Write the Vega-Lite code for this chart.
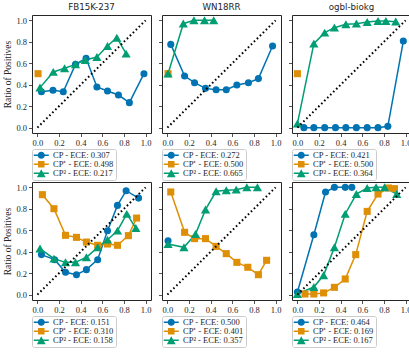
{
  "$schema": "https://vega.github.io/schema/vega-lite/v6.json",
  "padding": {"left": 2, "top": 2, "right": 0, "bottom": 0},
  "background": "white",
  "datasets": {
    "diag": [{"x": 0, "y": 0}, {"x": 1, "y": 1}],
    "cal": [
      {"p": 1, "s": "CP", "i": 0, "x": 0.037, "y": 0.335},
      {"p": 1, "s": "CP", "i": 1, "x": 0.144, "y": 0.348},
      {"p": 1, "s": "CP", "i": 2, "x": 0.239, "y": 0.335},
      {"p": 1, "s": "CP", "i": 3, "x": 0.352, "y": 0.59},
      {"p": 1, "s": "CP", "i": 4, "x": 0.45, "y": 0.646},
      {"p": 1, "s": "CP", "i": 5, "x": 0.55, "y": 0.379},
      {"p": 1, "s": "CP", "i": 6, "x": 0.648, "y": 0.342},
      {"p": 1, "s": "CP", "i": 7, "x": 0.749, "y": 0.304},
      {"p": 1, "s": "CP", "i": 8, "x": 0.85, "y": 0.233},
      {"p": 1, "s": "CP", "i": 9, "x": 0.985, "y": 0.503},
      {"p": 1, "s": "CP+", "i": 0, "x": 0.006, "y": 0.503},
      {"p": 1, "s": "CP2", "i": 0, "x": 0.024, "y": 0.373},
      {"p": 1, "s": "CP2", "i": 1, "x": 0.147, "y": 0.519},
      {"p": 1, "s": "CP2", "i": 2, "x": 0.251, "y": 0.553},
      {"p": 1, "s": "CP2", "i": 3, "x": 0.352, "y": 0.59},
      {"p": 1, "s": "CP2", "i": 4, "x": 0.443, "y": 0.63},
      {"p": 1, "s": "CP2", "i": 5, "x": 0.55, "y": 0.658},
      {"p": 1, "s": "CP2", "i": 6, "x": 0.648, "y": 0.761},
      {"p": 1, "s": "CP2", "i": 7, "x": 0.734, "y": 0.838},
      {"p": 1, "s": "CP2", "i": 8, "x": 0.82, "y": 0.689},

      {"p": 2, "s": "CP", "i": 0, "x": 0.031, "y": 0.776},
      {"p": 2, "s": "CP", "i": 1, "x": 0.159, "y": 0.481},
      {"p": 2, "s": "CP", "i": 2, "x": 0.251, "y": 0.419},
      {"p": 2, "s": "CP", "i": 3, "x": 0.352, "y": 0.366},
      {"p": 2, "s": "CP", "i": 4, "x": 0.45, "y": 0.354},
      {"p": 2, "s": "CP", "i": 5, "x": 0.544, "y": 0.354},
      {"p": 2, "s": "CP", "i": 6, "x": 0.642, "y": 0.398},
      {"p": 2, "s": "CP", "i": 7, "x": 0.749, "y": 0.419},
      {"p": 2, "s": "CP", "i": 8, "x": 0.841, "y": 0.457},
      {"p": 2, "s": "CP", "i": 9, "x": 0.972, "y": 0.761},
      {"p": 2, "s": "CP+", "i": 0, "x": 0.006, "y": 0.503},
      {"p": 2, "s": "CP2", "i": 0, "x": 0.006, "y": 0.503},
      {"p": 2, "s": "CP2", "i": 1, "x": 0.147, "y": 0.969},
      {"p": 2, "s": "CP2", "i": 2, "x": 0.245, "y": 1.0},
      {"p": 2, "s": "CP2", "i": 3, "x": 0.343, "y": 1.0},
      {"p": 2, "s": "CP2", "i": 4, "x": 0.428, "y": 1.0},

      {"p": 3, "s": "CP", "i": 0, "x": 0.06, "y": 0.0},
      {"p": 3, "s": "CP", "i": 1, "x": 0.152, "y": 0.0},
      {"p": 3, "s": "CP", "i": 2, "x": 0.252, "y": 0.0},
      {"p": 3, "s": "CP", "i": 3, "x": 0.352, "y": 0.0},
      {"p": 3, "s": "CP", "i": 4, "x": 0.448, "y": 0.0},
      {"p": 3, "s": "CP", "i": 5, "x": 0.545, "y": 0.0},
      {"p": 3, "s": "CP", "i": 6, "x": 0.645, "y": 0.0},
      {"p": 3, "s": "CP", "i": 7, "x": 0.745, "y": 0.0},
      {"p": 3, "s": "CP", "i": 8, "x": 0.836, "y": 0.012},
      {"p": 3, "s": "CP", "i": 9, "x": 0.979, "y": 0.807},
      {"p": 3, "s": "CP+", "i": 0, "x": 0.0, "y": 0.503},
      {"p": 3, "s": "CP2", "i": 0, "x": 0.0, "y": 0.037},
      {"p": 3, "s": "CP2", "i": 1, "x": 0.152, "y": 0.783},
      {"p": 3, "s": "CP2", "i": 2, "x": 0.252, "y": 0.885},
      {"p": 3, "s": "CP2", "i": 3, "x": 0.342, "y": 0.932},
      {"p": 3, "s": "CP2", "i": 4, "x": 0.448, "y": 0.963},
      {"p": 3, "s": "CP2", "i": 5, "x": 0.545, "y": 0.969},
      {"p": 3, "s": "CP2", "i": 6, "x": 0.645, "y": 0.984},
      {"p": 3, "s": "CP2", "i": 7, "x": 0.745, "y": 0.994},
      {"p": 3, "s": "CP2", "i": 8, "x": 0.818, "y": 0.994},
      {"p": 3, "s": "CP2", "i": 9, "x": 0.909, "y": 0.988},

      {"p": 4, "s": "CP", "i": 0, "x": 0.037, "y": 0.373},
      {"p": 4, "s": "CP", "i": 1, "x": 0.159, "y": 0.326},
      {"p": 4, "s": "CP", "i": 2, "x": 0.26, "y": 0.208},
      {"p": 4, "s": "CP", "i": 3, "x": 0.361, "y": 0.186},
      {"p": 4, "s": "CP", "i": 4, "x": 0.453, "y": 0.233},
      {"p": 4, "s": "CP", "i": 5, "x": 0.557, "y": 0.326},
      {"p": 4, "s": "CP", "i": 6, "x": 0.648, "y": 0.596},
      {"p": 4, "s": "CP", "i": 7, "x": 0.74, "y": 0.832},
      {"p": 4, "s": "CP", "i": 8, "x": 0.82, "y": 0.969},
      {"p": 4, "s": "CP", "i": 9, "x": 0.935, "y": 0.9},
      {"p": 4, "s": "CP+", "i": 0, "x": 0.046, "y": 0.932},
      {"p": 4, "s": "CP+", "i": 1, "x": 0.153, "y": 0.801},
      {"p": 4, "s": "CP+", "i": 2, "x": 0.26, "y": 0.553},
      {"p": 4, "s": "CP+", "i": 3, "x": 0.361, "y": 0.534},
      {"p": 4, "s": "CP+", "i": 4, "x": 0.453, "y": 0.49},
      {"p": 4, "s": "CP+", "i": 5, "x": 0.557, "y": 0.46},
      {"p": 4, "s": "CP+", "i": 6, "x": 0.648, "y": 0.472},
      {"p": 4, "s": "CP+", "i": 7, "x": 0.74, "y": 0.46},
      {"p": 4, "s": "CP+", "i": 8, "x": 0.841, "y": 0.55},
      {"p": 4, "s": "CP+", "i": 9, "x": 0.917, "y": 0.714},
      {"p": 4, "s": "CP2", "i": 0, "x": 0.024, "y": 0.429},
      {"p": 4, "s": "CP2", "i": 1, "x": 0.153, "y": 0.335},
      {"p": 4, "s": "CP2", "i": 2, "x": 0.26, "y": 0.301},
      {"p": 4, "s": "CP2", "i": 3, "x": 0.352, "y": 0.301},
      {"p": 4, "s": "CP2", "i": 4, "x": 0.453, "y": 0.348},
      {"p": 4, "s": "CP2", "i": 5, "x": 0.557, "y": 0.441},
      {"p": 4, "s": "CP2", "i": 6, "x": 0.648, "y": 0.512},
      {"p": 4, "s": "CP2", "i": 7, "x": 0.74, "y": 0.596},
      {"p": 4, "s": "CP2", "i": 8, "x": 0.826, "y": 0.752},
      {"p": 4, "s": "CP2", "i": 9, "x": 0.91, "y": 0.62},

      {"p": 5, "s": "CP", "i": 0, "x": 0.006, "y": 0.503},
      {"p": 5, "s": "CP+", "i": 0, "x": 0.031, "y": 0.957},
      {"p": 5, "s": "CP+", "i": 1, "x": 0.159, "y": 0.581},
      {"p": 5, "s": "CP+", "i": 2, "x": 0.251, "y": 0.522},
      {"p": 5, "s": "CP+", "i": 3, "x": 0.352, "y": 0.522},
      {"p": 5, "s": "CP+", "i": 4, "x": 0.45, "y": 0.45},
      {"p": 5, "s": "CP+", "i": 5, "x": 0.544, "y": 0.382},
      {"p": 5, "s": "CP+", "i": 6, "x": 0.642, "y": 0.301},
      {"p": 5, "s": "CP+", "i": 7, "x": 0.743, "y": 0.255},
      {"p": 5, "s": "CP+", "i": 8, "x": 0.841, "y": 0.186},
      {"p": 5, "s": "CP+", "i": 9, "x": 0.917, "y": 0.32},
      {"p": 5, "s": "CP2", "i": 0, "x": 0.006, "y": 0.472},
      {"p": 5, "s": "CP2", "i": 1, "x": 0.153, "y": 0.441},
      {"p": 5, "s": "CP2", "i": 2, "x": 0.26, "y": 0.565},
      {"p": 5, "s": "CP2", "i": 3, "x": 0.352, "y": 0.792},
      {"p": 5, "s": "CP2", "i": 4, "x": 0.45, "y": 0.963},
      {"p": 5, "s": "CP2", "i": 5, "x": 0.544, "y": 0.972},
      {"p": 5, "s": "CP2", "i": 6, "x": 0.636, "y": 0.978},
      {"p": 5, "s": "CP2", "i": 7, "x": 0.734, "y": 1.0},
      {"p": 5, "s": "CP2", "i": 8, "x": 0.832, "y": 1.0},

      {"p": 6, "s": "CP", "i": 0, "x": 0.0, "y": 0.025},
      {"p": 6, "s": "CP", "i": 1, "x": 0.152, "y": 0.559},
      {"p": 6, "s": "CP", "i": 2, "x": 0.26, "y": 0.957},
      {"p": 6, "s": "CP", "i": 3, "x": 0.342, "y": 1.0},
      {"p": 6, "s": "CP", "i": 4, "x": 0.442, "y": 1.0},
      {"p": 6, "s": "CP", "i": 5, "x": 0.503, "y": 1.0},
      {"p": 6, "s": "CP+", "i": 0, "x": 0.07, "y": 0.006},
      {"p": 6, "s": "CP+", "i": 1, "x": 0.152, "y": 0.006},
      {"p": 6, "s": "CP+", "i": 2, "x": 0.242, "y": 0.016},
      {"p": 6, "s": "CP+", "i": 3, "x": 0.342, "y": 0.068},
      {"p": 6, "s": "CP+", "i": 4, "x": 0.442, "y": 0.146},
      {"p": 6, "s": "CP+", "i": 5, "x": 0.539, "y": 0.373},
      {"p": 6, "s": "CP+", "i": 6, "x": 0.645, "y": 0.776},
      {"p": 6, "s": "CP+", "i": 7, "x": 0.745, "y": 0.938},
      {"p": 6, "s": "CP+", "i": 8, "x": 0.842, "y": 0.994},
      {"p": 6, "s": "CP+", "i": 9, "x": 0.897, "y": 0.988},
      {"p": 6, "s": "CP2", "i": 0, "x": 0.0, "y": 0.006},
      {"p": 6, "s": "CP2", "i": 1, "x": 0.152, "y": 0.071},
      {"p": 6, "s": "CP2", "i": 2, "x": 0.242, "y": 0.18},
      {"p": 6, "s": "CP2", "i": 3, "x": 0.342, "y": 0.441},
      {"p": 6, "s": "CP2", "i": 4, "x": 0.442, "y": 0.752},
      {"p": 6, "s": "CP2", "i": 5, "x": 0.545, "y": 0.938},
      {"p": 6, "s": "CP2", "i": 6, "x": 0.645, "y": 0.994},
      {"p": 6, "s": "CP2", "i": 7, "x": 0.727, "y": 1.0},
      {"p": 6, "s": "CP2", "i": 8, "x": 0.806, "y": 1.0},
      {"p": 6, "s": "CP2", "i": 9, "x": 0.918, "y": 0.938}
    ]
  },
  "config": {
    "view": {"stroke": "#262626", "strokeWidth": 1},
    "axis": {
      "labelFont": "Liberation Serif", "labelFontSize": 8.5, "labelColor": "#262626",
      "tickColor": "#262626", "tickSize": 3.5, "tickWidth": 0.8,
      "domain": false, "grid": false, "labelPadding": 2, "labelOverlap": false,
      "titleFont": "Liberation Serif", "titleFontSize": 9.5, "titleFontWeight": "normal",
      "titleColor": "#262626", "titlePadding": 3
    },
    "title": {"font": "DejaVu Sans", "fontSize": 8.7, "fontWeight": "normal", "color": "#262626", "offset": 3},
    "legend": {
      "orient": "bottom", "direction": "vertical", "offset": 2,
      "symbolSize": 64, "symbolOffset": 3, "labelOffset": 7.5,
      "labelFont": "Liberation Serif", "labelFontSize": 8.5, "labelColor": "#262626",
      "padding": 2, "rowPadding": 0, "strokeColor": "#cccccc", "cornerRadius": 2,
      "fillColor": "white", "symbolStrokeWidth": 0, "symbolOpacity": 1
    }
  },
  "spacing": 0,
  "resolve": {"scale": {"color": "independent", "shape": "independent"}, "legend": {"color": "independent", "shape": "independent"}},
  "vconcat": [
    {
      "spacing": 5,
      "resolve": {"scale": {"color": "independent", "shape": "independent"}, "legend": {"color": "independent", "shape": "independent"}},
      "hconcat": [
        {
          "width": 119, "height": 118, "title": "FB15K-237",
          "encoding": {
            "x": {"field": "x", "type": "quantitative", "scale": {"domain": [-0.05, 1.05], "nice": false, "zero": false}, "axis": {"values": [0, 0.2, 0.4, 0.6, 0.8, 1], "format": ".1f", "title": null}},
            "y": {"field": "y", "type": "quantitative", "scale": {"domain": [-0.05, 1.05], "nice": false, "zero": false}, "axis": {"values": [0, 0.2, 0.4, 0.6, 0.8, 1], "format": ".1f", "title": "Ratio of Positives"}}
          },
          "resolve": {"scale": {"shape": "independent", "color": "independent"}},
          "layer": [
            {"data": {"name": "cal"}, "transform": [{"filter": "datum.p == 1"}],
             "mark": {"type": "line", "strokeWidth": 1.5},
             "encoding": {
               "stroke": {"field": "s", "type": "nominal", "scale": {"domain": ["CP", "CP+", "CP2"], "range": ["#0173b2", "#de8f05", "#029e73"]}, "legend": null},
               "order": {"field": "i", "type": "quantitative"}
             }},
            {"data": {"name": "cal"}, "transform": [{"filter": "datum.p == 1"}],
             "mark": {"type": "point", "filled": true, "opacity": 1, "size": 50},
             "encoding": {
               "fill": {"field": "s", "type": "nominal", "scale": {"domain": ["CP", "CP+", "CP2"], "range": ["#0173b2", "#de8f05", "#029e73"]}, "legend": null},
               "shape": {"field": "s", "type": "nominal", "scale": {"domain": ["CP", "CP+", "CP2"], "range": ["circle", "square", "M0,-1.15L1.3,1.1H-1.3Z"]}, "legend": null}
             }},
            {"data": {"name": "cal"}, "transform": [{"filter": "false"}],
             "mark": {"type": "point", "filled": true},
             "encoding": {
               "color": {"field": "s", "type": "nominal", "scale": {"domain": ["CP", "CP+", "CP2"], "range": ["#0173b2", "#de8f05", "#029e73"]},
                 "legend": {"title": null, "labelExpr": "datum.value == 'CP' ? 'CP - ECE: 0.307' : datum.value == 'CP+' ? 'CP⁺ - ECE: 0.498' : 'CP² - ECE: 0.217'"}},
               "shape": {"field": "s", "type": "nominal", "scale": {"domain": ["CP", "CP+", "CP2"], "range": ["M-1.875,-0.19H1.875V0.19H-1.875Z M-0.9,0A0.9,0.9,0,1,1,0.9,0A0.9,0.9,0,1,1,-0.9,0Z", "M-1.875,-0.19H1.875V0.19H-1.875Z M-0.82,-0.82H0.82V0.82H-0.82Z", "M-1.875,-0.19H1.875V0.19H-1.875Z M0,-1L1.1,1H-1.1Z"]},
                 "legend": {"title": null, "labelExpr": "datum.value == 'CP' ? 'CP - ECE: 0.307' : datum.value == 'CP+' ? 'CP⁺ - ECE: 0.498' : 'CP² - ECE: 0.217'"}}
             }},
            {"data": {"name": "diag"}, "mark": {"type": "line", "color": "black", "strokeWidth": 2, "strokeDash": [1.6, 2.6]}, "encoding": {}}
          ]
        },
        {
          "width": 119, "height": 118, "title": "WN18RR",
          "encoding": {
            "x": {"field": "x", "type": "quantitative", "scale": {"domain": [-0.05, 1.05], "nice": false, "zero": false}, "axis": {"values": [0, 0.2, 0.4, 0.6, 0.8, 1], "format": ".1f", "title": null}},
            "y": {"field": "y", "type": "quantitative", "scale": {"domain": [-0.05, 1.05], "nice": false, "zero": false}, "axis": {"values": [0, 0.2, 0.4, 0.6, 0.8, 1], "labels": false, "title": null}}
          },
          "resolve": {"scale": {"shape": "independent", "color": "independent"}},
          "layer": [
            {"data": {"name": "cal"}, "transform": [{"filter": "datum.p == 2"}],
             "mark": {"type": "line", "strokeWidth": 1.5},
             "encoding": {
               "stroke": {"field": "s", "type": "nominal", "scale": {"domain": ["CP", "CP+", "CP2"], "range": ["#0173b2", "#de8f05", "#029e73"]}, "legend": null},
               "order": {"field": "i", "type": "quantitative"}
             }},
            {"data": {"name": "cal"}, "transform": [{"filter": "datum.p == 2"}],
             "mark": {"type": "point", "filled": true, "opacity": 1, "size": 50},
             "encoding": {
               "fill": {"field": "s", "type": "nominal", "scale": {"domain": ["CP", "CP+", "CP2"], "range": ["#0173b2", "#de8f05", "#029e73"]}, "legend": null},
               "shape": {"field": "s", "type": "nominal", "scale": {"domain": ["CP", "CP+", "CP2"], "range": ["circle", "square", "M0,-1.15L1.3,1.1H-1.3Z"]}, "legend": null}
             }},
            {"data": {"name": "cal"}, "transform": [{"filter": "false"}],
             "mark": {"type": "point", "filled": true},
             "encoding": {
               "color": {"field": "s", "type": "nominal", "scale": {"domain": ["CP", "CP+", "CP2"], "range": ["#0173b2", "#de8f05", "#029e73"]},
                 "legend": {"title": null, "labelExpr": "datum.value == 'CP' ? 'CP - ECE: 0.272' : datum.value == 'CP+' ? 'CP⁺ - ECE: 0.500' : 'CP² - ECE: 0.665'"}},
               "shape": {"field": "s", "type": "nominal", "scale": {"domain": ["CP", "CP+", "CP2"], "range": ["M-1.875,-0.19H1.875V0.19H-1.875Z M-0.9,0A0.9,0.9,0,1,1,0.9,0A0.9,0.9,0,1,1,-0.9,0Z", "M-1.875,-0.19H1.875V0.19H-1.875Z M-0.82,-0.82H0.82V0.82H-0.82Z", "M-1.875,-0.19H1.875V0.19H-1.875Z M0,-1L1.1,1H-1.1Z"]},
                 "legend": {"title": null, "labelExpr": "datum.value == 'CP' ? 'CP - ECE: 0.272' : datum.value == 'CP+' ? 'CP⁺ - ECE: 0.500' : 'CP² - ECE: 0.665'"}}
             }},
            {"data": {"name": "diag"}, "mark": {"type": "line", "color": "black", "strokeWidth": 2, "strokeDash": [1.6, 2.6]}, "encoding": {}}
          ]
        },
        {
          "width": 119, "height": 118, "title": "ogbl-biokg",
          "encoding": {
            "x": {"field": "x", "type": "quantitative", "scale": {"domain": [-0.05, 1.05], "nice": false, "zero": false}, "axis": {"values": [0, 0.2, 0.4, 0.6, 0.8, 1], "format": ".1f", "title": null}},
            "y": {"field": "y", "type": "quantitative", "scale": {"domain": [-0.05, 1.05], "nice": false, "zero": false}, "axis": {"values": [0, 0.2, 0.4, 0.6, 0.8, 1], "labels": false, "title": null}}
          },
          "resolve": {"scale": {"shape": "independent", "color": "independent"}},
          "layer": [
            {"data": {"name": "cal"}, "transform": [{"filter": "datum.p == 3"}],
             "mark": {"type": "line", "strokeWidth": 1.5},
             "encoding": {
               "stroke": {"field": "s", "type": "nominal", "scale": {"domain": ["CP", "CP+", "CP2"], "range": ["#0173b2", "#de8f05", "#029e73"]}, "legend": null},
               "order": {"field": "i", "type": "quantitative"}
             }},
            {"data": {"name": "cal"}, "transform": [{"filter": "datum.p == 3"}],
             "mark": {"type": "point", "filled": true, "opacity": 1, "size": 50},
             "encoding": {
               "fill": {"field": "s", "type": "nominal", "scale": {"domain": ["CP", "CP+", "CP2"], "range": ["#0173b2", "#de8f05", "#029e73"]}, "legend": null},
               "shape": {"field": "s", "type": "nominal", "scale": {"domain": ["CP", "CP+", "CP2"], "range": ["circle", "square", "M0,-1.15L1.3,1.1H-1.3Z"]}, "legend": null}
             }},
            {"data": {"name": "cal"}, "transform": [{"filter": "false"}],
             "mark": {"type": "point", "filled": true},
             "encoding": {
               "color": {"field": "s", "type": "nominal", "scale": {"domain": ["CP", "CP+", "CP2"], "range": ["#0173b2", "#de8f05", "#029e73"]},
                 "legend": {"title": null, "labelExpr": "datum.value == 'CP' ? 'CP - ECE: 0.421' : datum.value == 'CP+' ? 'CP⁺ - ECE: 0.500' : 'CP² - ECE: 0.364'"}},
               "shape": {"field": "s", "type": "nominal", "scale": {"domain": ["CP", "CP+", "CP2"], "range": ["M-1.875,-0.19H1.875V0.19H-1.875Z M-0.9,0A0.9,0.9,0,1,1,0.9,0A0.9,0.9,0,1,1,-0.9,0Z", "M-1.875,-0.19H1.875V0.19H-1.875Z M-0.82,-0.82H0.82V0.82H-0.82Z", "M-1.875,-0.19H1.875V0.19H-1.875Z M0,-1L1.1,1H-1.1Z"]},
                 "legend": {"title": null, "labelExpr": "datum.value == 'CP' ? 'CP - ECE: 0.421' : datum.value == 'CP+' ? 'CP⁺ - ECE: 0.500' : 'CP² - ECE: 0.364'"}}
             }},
            {"data": {"name": "diag"}, "mark": {"type": "line", "color": "black", "strokeWidth": 2, "strokeDash": [1.6, 2.6]}, "encoding": {}}
          ]
        }
      ]
    },
    {
      "spacing": 5,
      "resolve": {"scale": {"color": "independent", "shape": "independent"}, "legend": {"color": "independent", "shape": "independent"}},
      "hconcat": [
        {
          "width": 119, "height": 118,
          "encoding": {
            "x": {"field": "x", "type": "quantitative", "scale": {"domain": [-0.05, 1.05], "nice": false, "zero": false}, "axis": {"values": [0, 0.2, 0.4, 0.6, 0.8, 1], "format": ".1f", "title": null}},
            "y": {"field": "y", "type": "quantitative", "scale": {"domain": [-0.05, 1.05], "nice": false, "zero": false}, "axis": {"values": [0, 0.2, 0.4, 0.6, 0.8, 1], "format": ".1f", "title": "Ratio of Positives"}}
          },
          "resolve": {"scale": {"shape": "independent", "color": "independent"}},
          "layer": [
            {"data": {"name": "cal"}, "transform": [{"filter": "datum.p == 4"}],
             "mark": {"type": "line", "strokeWidth": 1.5},
             "encoding": {
               "stroke": {"field": "s", "type": "nominal", "scale": {"domain": ["CP", "CP+", "CP2"], "range": ["#0173b2", "#de8f05", "#029e73"]}, "legend": null},
               "order": {"field": "i", "type": "quantitative"}
             }},
            {"data": {"name": "cal"}, "transform": [{"filter": "datum.p == 4"}],
             "mark": {"type": "point", "filled": true, "opacity": 1, "size": 50},
             "encoding": {
               "fill": {"field": "s", "type": "nominal", "scale": {"domain": ["CP", "CP+", "CP2"], "range": ["#0173b2", "#de8f05", "#029e73"]}, "legend": null},
               "shape": {"field": "s", "type": "nominal", "scale": {"domain": ["CP", "CP+", "CP2"], "range": ["circle", "square", "M0,-1.15L1.3,1.1H-1.3Z"]}, "legend": null}
             }},
            {"data": {"name": "cal"}, "transform": [{"filter": "false"}],
             "mark": {"type": "point", "filled": true},
             "encoding": {
               "color": {"field": "s", "type": "nominal", "scale": {"domain": ["CP", "CP+", "CP2"], "range": ["#0173b2", "#de8f05", "#029e73"]},
                 "legend": {"title": null, "labelExpr": "datum.value == 'CP' ? 'CP - ECE: 0.151' : datum.value == 'CP+' ? 'CP⁺ - ECE: 0.310' : 'CP² - ECE: 0.158'"}},
               "shape": {"field": "s", "type": "nominal", "scale": {"domain": ["CP", "CP+", "CP2"], "range": ["M-1.875,-0.19H1.875V0.19H-1.875Z M-0.9,0A0.9,0.9,0,1,1,0.9,0A0.9,0.9,0,1,1,-0.9,0Z", "M-1.875,-0.19H1.875V0.19H-1.875Z M-0.82,-0.82H0.82V0.82H-0.82Z", "M-1.875,-0.19H1.875V0.19H-1.875Z M0,-1L1.1,1H-1.1Z"]},
                 "legend": {"title": null, "labelExpr": "datum.value == 'CP' ? 'CP - ECE: 0.151' : datum.value == 'CP+' ? 'CP⁺ - ECE: 0.310' : 'CP² - ECE: 0.158'"}}
             }},
            {"data": {"name": "diag"}, "mark": {"type": "line", "color": "black", "strokeWidth": 2, "strokeDash": [1.6, 2.6]}, "encoding": {}}
          ]
        },
        {
          "width": 119, "height": 118,
          "encoding": {
            "x": {"field": "x", "type": "quantitative", "scale": {"domain": [-0.05, 1.05], "nice": false, "zero": false}, "axis": {"values": [0, 0.2, 0.4, 0.6, 0.8, 1], "format": ".1f", "title": null}},
            "y": {"field": "y", "type": "quantitative", "scale": {"domain": [-0.05, 1.05], "nice": false, "zero": false}, "axis": {"values": [0, 0.2, 0.4, 0.6, 0.8, 1], "labels": false, "title": null}}
          },
          "resolve": {"scale": {"shape": "independent", "color": "independent"}},
          "layer": [
            {"data": {"name": "cal"}, "transform": [{"filter": "datum.p == 5"}],
             "mark": {"type": "line", "strokeWidth": 1.5},
             "encoding": {
               "stroke": {"field": "s", "type": "nominal", "scale": {"domain": ["CP", "CP+", "CP2"], "range": ["#0173b2", "#de8f05", "#029e73"]}, "legend": null},
               "order": {"field": "i", "type": "quantitative"}
             }},
            {"data": {"name": "cal"}, "transform": [{"filter": "datum.p == 5"}],
             "mark": {"type": "point", "filled": true, "opacity": 1, "size": 50},
             "encoding": {
               "fill": {"field": "s", "type": "nominal", "scale": {"domain": ["CP", "CP+", "CP2"], "range": ["#0173b2", "#de8f05", "#029e73"]}, "legend": null},
               "shape": {"field": "s", "type": "nominal", "scale": {"domain": ["CP", "CP+", "CP2"], "range": ["circle", "square", "M0,-1.15L1.3,1.1H-1.3Z"]}, "legend": null}
             }},
            {"data": {"name": "cal"}, "transform": [{"filter": "false"}],
             "mark": {"type": "point", "filled": true},
             "encoding": {
               "color": {"field": "s", "type": "nominal", "scale": {"domain": ["CP", "CP+", "CP2"], "range": ["#0173b2", "#de8f05", "#029e73"]},
                 "legend": {"title": null, "labelExpr": "datum.value == 'CP' ? 'CP - ECE: 0.500' : datum.value == 'CP+' ? 'CP⁺ - ECE: 0.401' : 'CP² - ECE: 0.357'"}},
               "shape": {"field": "s", "type": "nominal", "scale": {"domain": ["CP", "CP+", "CP2"], "range": ["M-1.875,-0.19H1.875V0.19H-1.875Z M-0.9,0A0.9,0.9,0,1,1,0.9,0A0.9,0.9,0,1,1,-0.9,0Z", "M-1.875,-0.19H1.875V0.19H-1.875Z M-0.82,-0.82H0.82V0.82H-0.82Z", "M-1.875,-0.19H1.875V0.19H-1.875Z M0,-1L1.1,1H-1.1Z"]},
                 "legend": {"title": null, "labelExpr": "datum.value == 'CP' ? 'CP - ECE: 0.500' : datum.value == 'CP+' ? 'CP⁺ - ECE: 0.401' : 'CP² - ECE: 0.357'"}}
             }},
            {"data": {"name": "diag"}, "mark": {"type": "line", "color": "black", "strokeWidth": 2, "strokeDash": [1.6, 2.6]}, "encoding": {}}
          ]
        },
        {
          "width": 119, "height": 118,
          "encoding": {
            "x": {"field": "x", "type": "quantitative", "scale": {"domain": [-0.05, 1.05], "nice": false, "zero": false}, "axis": {"values": [0, 0.2, 0.4, 0.6, 0.8, 1], "format": ".1f", "title": null}},
            "y": {"field": "y", "type": "quantitative", "scale": {"domain": [-0.05, 1.05], "nice": false, "zero": false}, "axis": {"values": [0, 0.2, 0.4, 0.6, 0.8, 1], "labels": false, "title": null}}
          },
          "resolve": {"scale": {"shape": "independent", "color": "independent"}},
          "layer": [
            {"data": {"name": "cal"}, "transform": [{"filter": "datum.p == 6"}],
             "mark": {"type": "line", "strokeWidth": 1.5},
             "encoding": {
               "stroke": {"field": "s", "type": "nominal", "scale": {"domain": ["CP", "CP+", "CP2"], "range": ["#0173b2", "#de8f05", "#029e73"]}, "legend": null},
               "order": {"field": "i", "type": "quantitative"}
             }},
            {"data": {"name": "cal"}, "transform": [{"filter": "datum.p == 6"}],
             "mark": {"type": "point", "filled": true, "opacity": 1, "size": 50},
             "encoding": {
               "fill": {"field": "s", "type": "nominal", "scale": {"domain": ["CP", "CP+", "CP2"], "range": ["#0173b2", "#de8f05", "#029e73"]}, "legend": null},
               "shape": {"field": "s", "type": "nominal", "scale": {"domain": ["CP", "CP+", "CP2"], "range": ["circle", "square", "M0,-1.15L1.3,1.1H-1.3Z"]}, "legend": null}
             }},
            {"data": {"name": "cal"}, "transform": [{"filter": "false"}],
             "mark": {"type": "point", "filled": true},
             "encoding": {
               "color": {"field": "s", "type": "nominal", "scale": {"domain": ["CP", "CP+", "CP2"], "range": ["#0173b2", "#de8f05", "#029e73"]},
                 "legend": {"title": null, "labelExpr": "datum.value == 'CP' ? 'CP - ECE: 0.464' : datum.value == 'CP+' ? 'CP⁺ - ECE: 0.169' : 'CP² - ECE: 0.167'"}},
               "shape": {"field": "s", "type": "nominal", "scale": {"domain": ["CP", "CP+", "CP2"], "range": ["M-1.875,-0.19H1.875V0.19H-1.875Z M-0.9,0A0.9,0.9,0,1,1,0.9,0A0.9,0.9,0,1,1,-0.9,0Z", "M-1.875,-0.19H1.875V0.19H-1.875Z M-0.82,-0.82H0.82V0.82H-0.82Z", "M-1.875,-0.19H1.875V0.19H-1.875Z M0,-1L1.1,1H-1.1Z"]},
                 "legend": {"title": null, "labelExpr": "datum.value == 'CP' ? 'CP - ECE: 0.464' : datum.value == 'CP+' ? 'CP⁺ - ECE: 0.169' : 'CP² - ECE: 0.167'"}}
             }},
            {"data": {"name": "diag"}, "mark": {"type": "line", "color": "black", "strokeWidth": 2, "strokeDash": [1.6, 2.6]}, "encoding": {}}
          ]
        }
      ]
    }
  ]
}
